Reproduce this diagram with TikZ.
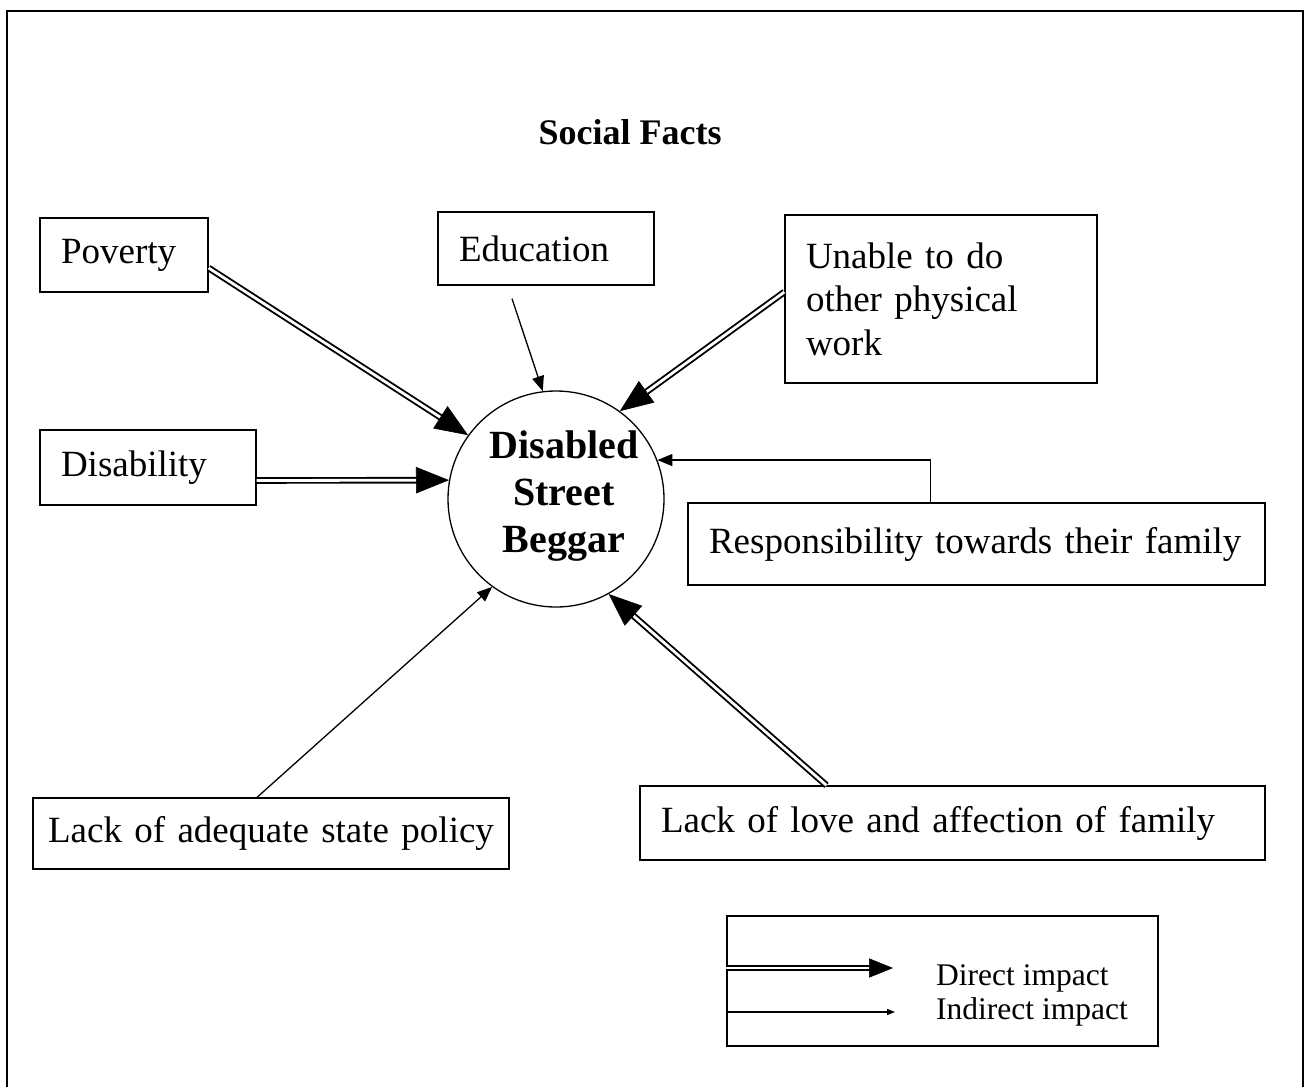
\documentclass[tikz,border=0pt]{standalone}
\usepackage{fontspec}
\setmainfont{Liberation Serif}
\usetikzlibrary{arrows.meta,calc}

% double-lined arrow with a large solid head
\newcommand{\directlink}[3][33pt]{%
  \draw[dline, shorten >=0.7*#1] (#2) -- (#3);
  \draw[dtip=#1] ($(#3)!#1!(#2)$) -- (#3);}

\begin{document}
\begin{tikzpicture}[x=1pt,y=-1pt,
  box/.style={draw, line width=1.3pt, rectangle, inner ysep=0pt, inner xsep=21pt,
              align=left, font=\fontsize{37}{43.5}\selectfont},
  dline/.style={draw, line width=1.9pt, double=white, double distance=2.8pt},
  dtip/.style={line width=0.6pt, -{Triangle[length=#1, width=0.8*#1]}},
  ind/.style={line width=1.3pt, -{Triangle[length=15pt, width=12pt]}}]

\useasboundingbox (0,0) rectangle (1309,1087);

% page frame (open at the bottom)
\draw[line width=2pt] (7,1087) -- (7,11) -- (1303,11) -- (1303,1087);

% title
\node[font=\fontsize{36}{40}\selectfont\bfseries] (ttl) at (630,132) {Social Facts};

% central circle and its label
\node[circle, draw, line width=1.3pt, minimum size=216pt, inner sep=0pt] (beg) at (556,499) {};
\node[align=center, inner sep=0pt, font=\fontsize{40}{47}\selectfont\bfseries] (begtxt) at (564,496) {Disabled\\Street\\Beggar};

% factor boxes
\node[box, minimum width=168pt, minimum height=74pt, text width=126pt] (pov) at (124,255) {Poverty};
\node[box, minimum width=216pt, minimum height=73pt, text width=174pt] (edu) at (546,248.5) {Education};
\node[box, minimum width=312pt, minimum height=168pt, text width=270pt] (unb) at (941,299) {Unable to do\\other physical\\work};
\node[box, minimum width=216pt, minimum height=75pt, text width=174pt] (dis) at (148,467.5) {Disability};
\node[box, minimum width=577pt, minimum height=82pt, text width=535pt] (rsp) at (976.5,544) {Responsibility towards their family};
\node[box, minimum width=476pt, minimum height=71pt, inner xsep=10pt, text width=456pt, align=center] (lsp) at (271,833.5) {Lack of adequate state policy};
\node[box, minimum width=625pt, minimum height=74pt, text width=583pt] (llf) at (952.5,823) {Lack of love and affection of family};

% connector start points on the boxes
\coordinate (povout) at ([yshift=-13pt]pov.east);
\coordinate (eduout) at ([xshift=-34pt, yshift=-13pt]edu.south);
\coordinate (unbout) at ([yshift=7pt]unb.west);
\coordinate (disout) at ([yshift=-13pt]dis.east);
\coordinate (lspout) at ([xshift=-14pt]lsp.north);
\coordinate (llfout) at ([xshift=-126pt]llf.north);

% direct impacts
\directlink{povout}{beg.144}
\directlink{unbout}{beg.54}
\directlink{disout}{beg.170}
\directlink{llfout}{beg.299}

% indirect impacts
\draw[ind] (eduout) -- (beg.97);
\draw[ind] ([xshift=-46pt]rsp.north) |- (beg.21);
\draw[ind] (lspout) -- (beg.234);

% legend
\node[draw, line width=1.3pt, minimum width=431pt, minimum height=130pt, inner sep=0pt] (leg) at (942.5,981) {};
\coordinate (lgs1) at ([yshift=13pt]leg.west);
\coordinate (lge1) at (893,968);
\coordinate (lgs2) at ([yshift=-31pt]leg.west);
\coordinate (lge2) at (895,1012);
\directlink[24pt]{lgs1}{lge1}
\draw[line width=1.3pt, -{Triangle[length=8pt, width=6pt]}] (lgs2) -- (lge2);
\node[anchor=west, inner sep=0pt, font=\fontsize{31.5}{36}\selectfont] (ltx1) at (936,978) {Direct impact};
\node[anchor=west, inner sep=0pt, font=\fontsize{31.5}{36}\selectfont] (ltx2) at (936,1012) {Indirect impact};

\end{tikzpicture}
\end{document}
